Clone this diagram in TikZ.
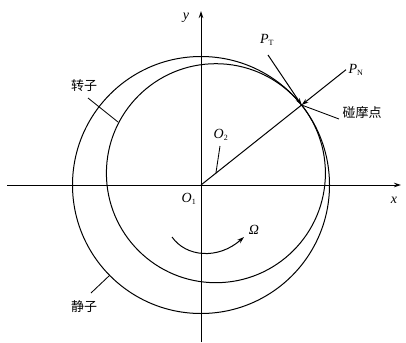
\documentclass[tikz,border=0pt]{standalone}
\usepackage{fontspec}
\setmainfont{Liberation Serif}
\newfontfamily\cjk{Noto Sans CJK SC}
\usetikzlibrary{arrows.meta}
\begin{document}
\begin{tikzpicture}[x=1pt,y=-1pt,line width=1pt,
  lbl/.style={font=\fontsize{14}{14}\selectfont\itshape,inner sep=0pt},
  cn/.style={font=\cjk\fontsize{13}{13}\selectfont,inner sep=0pt},
  arr/.style={-{Stealth[length=7pt,width=4.5pt]}},
  leader/.style={line width=0.85pt}]
\useasboundingbox (0,0) rectangle (406,342);
% centres and contact point
\coordinate (O1) at (201,185);
\coordinate (O2) at (215.9,173.2);
\coordinate (C) at (301.6,105);
% axes
\coordinate (xs) at (7,185);
\coordinate (xe) at (401,185);
\coordinate (ys) at (201,342);
\coordinate (ye) at (201,11);
\draw[arr] (xs) -- (xe);
\draw[arr] (ys) -- (ye);
\node[lbl] (xl) at (394,200) {x};
\node[lbl] (yl) at (186,18) {y};
% stator and rotor
\draw (O1) circle[radius=128.5pt];
\draw (O2) circle[radius=109.5pt];
% radial line
\coordinate (PNe) at (346,69.7);
\draw (O1) -- (C);
\draw[arr] (PNe) -- (C);
\coordinate (PTs) at (268,55);
\draw[arr] (PTs) -- (C);
\node[lbl] (PT) at (267,40) {P\textsubscript{\upshape\fontsize{8}{8}\selectfont T}};
\node[lbl] (PN) at (356,70) {P\textsubscript{\upshape\fontsize{8}{8}\selectfont N}};
% contact label
\node[cn,anchor=west] (pm) at (342,113) {碰摩点};
\coordinate (pmL) at (339,119);
\draw[leader] (C) -- (pmL);
% O labels
\node[lbl] (O1l) at (189,199) {O\textsubscript{\upshape\fontsize{8}{8}\selectfont 1}};
\node[lbl] (O2l) at (221,135) {O\textsubscript{\upshape\fontsize{8}{8}\selectfont 2}};
\coordinate (O2a) at (220,146);
\draw[leader] (O2a) -- (O2);
% rotor / stator labels
\node[cn] (rot) at (84,86) {转子};
\coordinate (rotA) at (88,98);
\coordinate (rotB) at (118,122);
\draw[leader] (rotA) -- (rotB);
\node[cn] (sta) at (84,307) {静子};
\coordinate (staA) at (91,293);
\coordinate (staB) at (110,275);
\draw[leader] (staA) -- (staB);
% Omega
\coordinate (wa) at (172,237);
\coordinate (wb) at (244,237);
\draw[arr] (wa) .. controls (186,257) and (218,260) .. (wb);
\node[lbl] (om) at (254,230) {Ω};
\end{tikzpicture}
\end{document}
